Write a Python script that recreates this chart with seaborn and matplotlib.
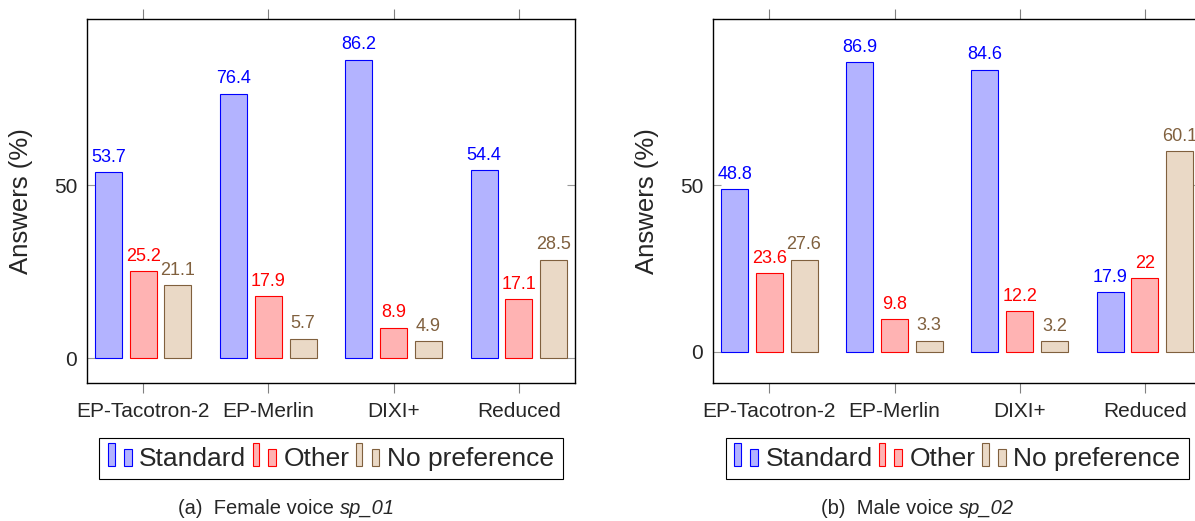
import matplotlib
matplotlib.use("Agg")
import matplotlib.pyplot as plt
import seaborn as sns
import pandas as pd
from matplotlib.patches import Patch, Rectangle
from matplotlib.legend_handler import HandlerBase

# ---- data -------------------------------------------------------------
systems = ["EP-Tacotron-2", "EP-Merlin", "DIXI+", "Reduced"]
answers = ["Standard", "Other", "No preference"]

female_standard = [53.7, 76.4, 86.2, 54.4]
female_other = [25.2, 17.9, 8.9, 17.1]
female_nopref = [21.1, 5.7, 4.9, 28.5]

male_standard = [48.8, 86.9, 84.6, 17.9]
male_other = [23.6, 9.8, 12.2, 22.0]
male_nopref = [27.6, 3.3, 3.2, 60.1]

captions = [("(a)  Female voice ", "sp_01"), ("(b)  Male voice ", "sp_02")]

# ---- styles -----------------------------------------------------------
fills = ["#b3b3ff", "#ffb3b3", "#ead9c6"]
edges = ["#0000ff", "#ff0000", "#80603e"]

sns.set_style("ticks")
plt.rcParams["font.family"] = ["Liberation Sans", "DejaVu Sans"]


def long_table(std, oth, nop):
    rows = []
    for vals, ans in zip([std, oth, nop], answers):
        for s, v in zip(systems, vals):
            rows.append({"system": s, "answer": ans, "value": v})
    return pd.DataFrame(rows)


class TwoBarHandler(HandlerBase):
    """Legend key drawn as two small bars of different heights."""

    def create_artists(self, legend, orig_handle, xdescent, ydescent,
                       width, height, fontsize, trans):
        fc = orig_handle.get_facecolor()
        ec = orig_handle.get_edgecolor()
        x0, y0 = -xdescent, -ydescent
        r1 = Rectangle((x0, y0), width * 0.28, height * 1.25,
                       facecolor=fc, edgecolor=ec, linewidth=0.8)
        r2 = Rectangle((x0 + width * 0.66, y0), width * 0.33, height * 0.92,
                       facecolor=fc, edgecolor=ec, linewidth=0.8)
        for r in (r1, r2):
            r.set_transform(trans)
        return [r1, r2]


fig = plt.figure(figsize=(11.95, 5.21), dpi=100)
ax_l = fig.add_axes([0.0728, 0.2649, 0.4084, 0.6992])
ax_r = fig.add_axes([0.5967, 0.2649, 0.4084, 0.6992])

panels = [
    (ax_l, long_table(female_standard, female_other, female_nopref), (-7.1, 98.0)),
    (ax_r, long_table(male_standard, male_other, male_nopref), (-9.4, 99.9)),
]

for ax, df, ylim in panels:
    sns.barplot(data=df, x="system", y="value", hue="answer",
                hue_order=answers, order=systems, palette=fills,
                width=0.831, gap=0.22, legend=False, ax=ax,
                linewidth=0.8, saturation=1)
    for cont, ec in zip(ax.containers, edges):
        for bar in cont:
            bar.set_edgecolor(ec)
            bar.set_linewidth(0.8)
        ax.bar_label(cont, fmt="%g", padding=4.5, color=ec, fontsize=13)

    ax.set_xlim(-0.45, 3.45)
    ax.set_ylim(*ylim)
    ax.set_yticks([0, 50])
    ax.set_xlabel("")
    ax.set_ylabel("Answers (%)", fontsize=18.5)
    ax.yaxis.set_label_coords(-0.111, 0.5)

    for sp in ax.spines.values():
        sp.set_visible(True)
        sp.set_color("black")
        sp.set_linewidth(1.0)

    ax.tick_params(axis="x", which="major", direction="out", top=True,
                   bottom=True, length=7.5, width=0.8, color="#808080",
                   labelsize=15, pad=6)
    ax.tick_params(axis="y", which="major", direction="in", left=True,
                   right=True, length=6, width=0.8, color="#999999",
                   labelsize=15, pad=7)

    handles = [Patch(facecolor=f, edgecolor=e) for f, e in zip(fills, edges)]
    leg = ax.legend(handles, answers, loc="upper center",
                    bbox_to_anchor=(0.5, -0.151), borderaxespad=0,
                    ncol=3, fontsize=19, handlelength=0.91,
                    handletextpad=0.27, columnspacing=0.23, borderpad=0.33,
                    fancybox=False, framealpha=1,
                    handler_map={Patch: TwoBarHandler()})
    leg.get_frame().set_edgecolor("black")
    leg.get_frame().set_linewidth(0.8)

# captions under each panel: regular text followed by an italic name
for (plain, name), xs in zip(captions, [0.2845, 0.8023]):
    fig.text(xs, 0.0134, plain, ha="right", va="baseline", fontsize=14.5)
    fig.text(xs, 0.0134, name, ha="left", va="baseline",
             fontsize=14.5, style="italic")

fig.savefig("out.png", dpi=100)
